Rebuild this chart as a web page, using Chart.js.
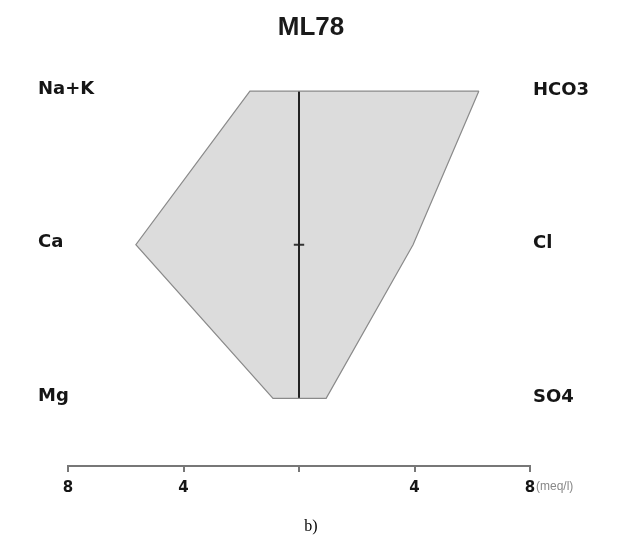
<!DOCTYPE html>
<html>
<head>
<meta charset="utf-8">
<style>
  html, body { margin: 0; padding: 0; background: #fff; }
  #wrap { width: 638px; height: 541px; }
</style>
<script src="https://cdn.jsdelivr.net/npm/chart.js@4/dist/chart.umd.min.js"></script>
</head>
<body>
<div id="wrap"><canvas id="stiff"></canvas></div>
<script>
// stiff diagram, sample ML78 (meq/l)
const cations = ['Na+K', 'Ca', 'Mg'];
const anions = ['HCO3', 'Cl', 'SO4'];
const cationVals = [1.7, 5.65, 0.9];
const anionVals = [6.23, 3.95, 0.94];
const xTicks = [-8, -4, 0, 4, 8];

// polygon: anions down the right side, cations back up the left side
const rows = cations.map((c, i) => i);
const shape = [];
rows.forEach(i => shape.push({x: anionVals[i], y: i}));
rows.slice().reverse().forEach(i => shape.push({x: -cationVals[i], y: i}));
shape.push(shape[0]);

const fillShape = {
  id: 'fillShape',
  beforeDatasetsDraw(chart) {
    const pts = chart.getDatasetMeta(0).data;
    const ctx = chart.ctx;
    ctx.save();
    ctx.beginPath();
    pts.forEach((p, i) => i ? ctx.lineTo(p.x, p.y) : ctx.moveTo(p.x, p.y));
    ctx.closePath();
    ctx.fillStyle = '#dcdcdc';
    ctx.fill();
    ctx.restore();
  }
};

// ion names, title, unit and caption
const texts = {
  id: 'texts',
  afterDraw(chart) {
    const ctx = chart.ctx;
    const y = chart.scales.y, x = chart.scales.x;
    ctx.save();
    ctx.textBaseline = 'middle';
    ctx.textAlign = 'center';
    ctx.fillStyle = '#1a1a1a';
    ctx.font = 'bold 26px "Liberation Sans"';
    ctx.fillText('ML78', 311, 28);
    ctx.fillStyle = '#000';
    ctx.font = '16px "Liberation Serif"';
    ctx.fillText('b)', 311, 527);

    ctx.textAlign = 'left';
    ctx.fillStyle = '#151515';
    ctx.font = 'bold 18px "DejaVu Sans"';
    cations.forEach((c, i) => ctx.fillText(c, 38, y.getPixelForValue(i) - 2));
    anions.forEach((a, i) => ctx.fillText(a, 533, y.getPixelForValue(i) - 1));
    ctx.font = '12px "Liberation Sans"';
    ctx.fillStyle = '#888';
    ctx.fillText('(meq/l)', x.getPixelForValue(8) + 6, chart.chartArea.bottom + 21);
    ctx.restore();
  }
};

new Chart(document.getElementById('stiff'), {
  type: 'scatter',
  data: {
    datasets: [
      {
        data: shape,
        showLine: true,
        borderColor: '#8a8a8a',
        borderWidth: 1.2,
        pointRadius: 0
      },
      {
        data: [{x: 0, y: 0}, {x: 0, y: cations.length - 1}],
        showLine: true,
        borderColor: '#222',
        borderWidth: 2,
        pointRadius: 0
      },
      {
        data: [{x: -0.18, y: 1}, {x: 0.18, y: 1}],
        showLine: true,
        borderColor: '#333',
        borderWidth: 2,
        pointRadius: 0
      }
    ]
  },
  options: {
    responsive: true,
    maintainAspectRatio: false,
    animation: false,
    layout: {padding: {left: 68, right: 108, top: 45, bottom: 37}},
    plugins: {
      legend: {display: false},
      tooltip: {enabled: false}
    },
    scales: {
      x: {
        type: 'linear',
        min: -8,
        max: 8,
        afterBuildTicks: s => { s.ticks = xTicks.map(v => ({value: v})); },
        ticks: {
          callback: v => v === 0 ? '' : Math.abs(v),
          color: '#151515',
          font: {family: 'DejaVu Sans', size: 15, weight: 'bold'},
          padding: 7,
          maxRotation: 0
        },
        grid: {drawOnChartArea: false, tickLength: 6, color: '#777', lineWidth: 2},
        border: {color: '#777', width: 2}
      },
      y: {
        type: 'linear',
        reverse: true,
        min: -0.3,
        max: 2.44,
        display: false
      }
    }
  },
  plugins: [fillShape, texts]
});
</script>
</body>
</html>
